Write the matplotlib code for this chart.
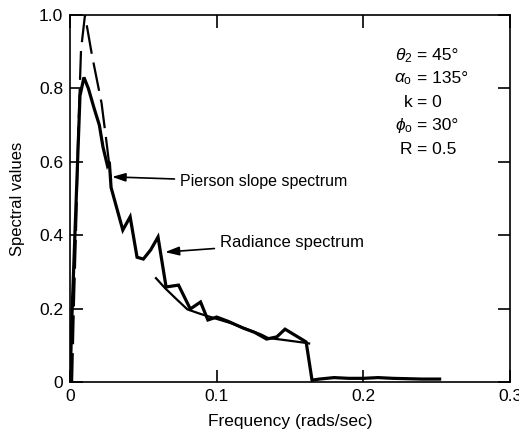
import matplotlib
matplotlib.use("Agg")
import matplotlib.pyplot as plt

plt.rcParams['font.family'] = ['Liberation Sans', 'DejaVu Sans']
plt.rcParams['mathtext.fontset'] = 'custom'
plt.rcParams['mathtext.rm'] = 'Liberation Sans'
plt.rcParams['mathtext.it'] = 'Liberation Sans:italic'

# Radiance spectrum (solid, thick)
rad_x = [0.0, 0.0014, 0.0068, 0.0095, 0.0125, 0.0165, 0.020, 0.0225, 0.0255, 0.0268, 0.028,
         0.036, 0.041, 0.0457, 0.050, 0.055, 0.060, 0.0655, 0.074, 0.082, 0.089, 0.094, 0.100,
         0.108, 0.118, 0.126, 0.134, 0.141, 0.1466, 0.159, 0.161, 0.165, 0.170, 0.180, 0.190,
         0.200, 0.210, 0.220, 0.230, 0.240, 0.252]
rad_y = [0.0, 0.19, 0.78, 0.83, 0.80, 0.745, 0.70, 0.64, 0.59, 0.60, 0.53,
         0.414, 0.45, 0.34, 0.335, 0.36, 0.395, 0.259, 0.264, 0.199, 0.218, 0.169, 0.177,
         0.165, 0.147, 0.135, 0.117, 0.123, 0.144, 0.114, 0.109, 0.005, 0.008, 0.012, 0.010,
         0.010, 0.012, 0.010, 0.009, 0.008, 0.008]

# Pierson slope spectrum: dashed peak part and solid tail
pier_peak_x = [0.0014, 0.0027, 0.0041, 0.0055, 0.0075, 0.0102, 0.015, 0.0215, 0.025, 0.028]
pier_peak_y = [0.0, 0.22, 0.414, 0.66, 0.905, 1.0, 0.89, 0.76, 0.65, 0.55]
pier_tail_x = [0.0586, 0.065, 0.072, 0.080, 0.0886, 0.100, 0.110, 0.120, 0.130, 0.135, 0.145, 0.160, 0.163]
pier_tail_y = [0.283, 0.255, 0.228, 0.198, 0.186, 0.172, 0.160, 0.145, 0.130, 0.120, 0.115, 0.107, 0.105]

x_ticks = [0, 0.1, 0.2, 0.3]
x_ticklabels = ['0', '0.1', '0.2', '0.3']
y_ticks = [0, 0.2, 0.4, 0.6, 0.8, 1.0]
y_ticklabels = ['0', '0.2', '0.4', '0.6', '0.8', '1.0']

param_left = [r'$\theta_{\rm 2}$', r'$\alpha_{\rm o}$', 'k', r'$\phi_{\rm o}$', 'R']
param_right = ['= 45°', '= 135°', '= 0', '= 30°', '= 0.5']

fig = plt.figure(figsize=(5.19, 4.34), dpi=100)
ax = fig.add_axes([0.1349, 0.1198, 0.8478, 0.8456])

ax.plot(pier_peak_x, pier_peak_y, color='black', lw=1.6, dashes=(13, 4), solid_capstyle='butt')
ax.plot(pier_tail_x, pier_tail_y, color='black', lw=1.6)
ax.plot(rad_x, rad_y, color='black', lw=2.3, solid_joinstyle='miter')

ax.set_xlim(0, 0.3)
ax.set_ylim(0, 1.0)
ax.set_xticks(x_ticks)
ax.set_xticklabels(x_ticklabels)
ax.set_yticks(y_ticks)
ax.set_yticklabels(y_ticklabels)
ax.tick_params(direction='in', length=9, width=1.2, labelsize=12.5, pad=5,
               top=True, right=True)
for s in ax.spines.values():
    s.set_linewidth(1.2)

ax.set_xlabel('Frequency (rads/sec)', fontsize=12.5, labelpad=7)
ax.set_ylabel('Spectral values', fontsize=12, labelpad=10)

ax.annotate('Pierson slope spectrum', xy=(0.0286, 0.559), xytext=(0.075, 0.545),
            fontsize=11.5, va='center', ha='left',
            arrowprops=dict(arrowstyle='-|>,head_length=0.7,head_width=0.22',
                            color='black', lw=1.2, shrinkA=2, shrinkB=0))
ax.annotate('Radiance spectrum', xy=(0.0648, 0.354), xytext=(0.1022, 0.379),
            fontsize=12, va='center', ha='left',
            arrowprops=dict(arrowstyle='-|>,head_length=0.7,head_width=0.22',
                            color='black', lw=1.2, shrinkA=2, shrinkB=0))

y0 = 0.89
for i, (l, r) in enumerate(zip(param_left, param_right)):
    y = y0 - i * 0.064
    ax.text(0.2335, y, l, fontsize=12.5, ha='right', va='center')
    ax.text(0.2365, y, r, fontsize=12.5, ha='left', va='center')

fig.savefig('out.png', dpi=100)
